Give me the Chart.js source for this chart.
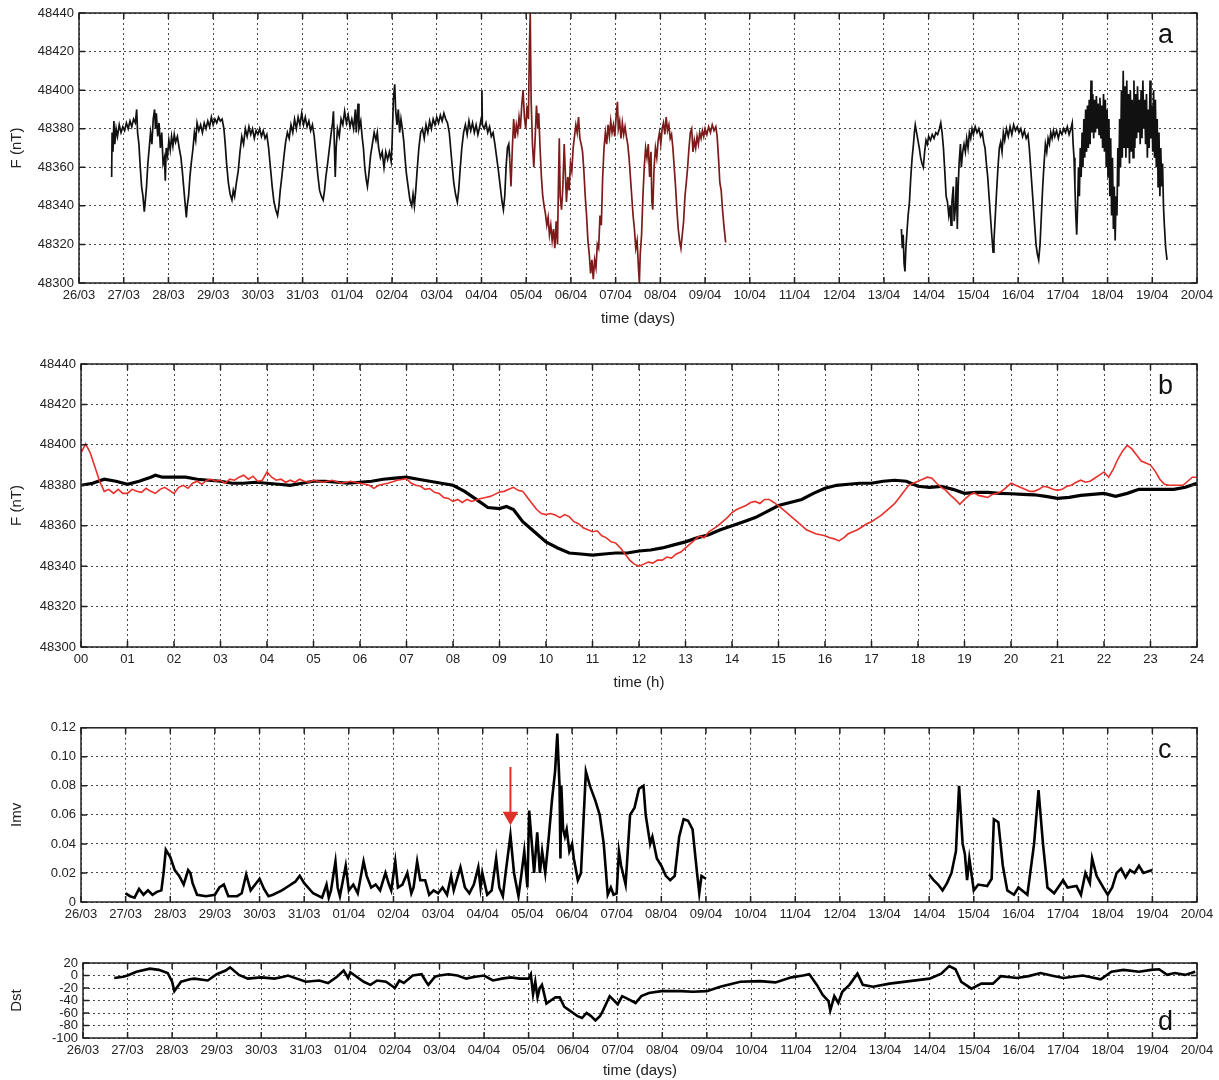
<!DOCTYPE html>
<html>
<head>
<meta charset="utf-8">
<script src="https://cdn.jsdelivr.net/npm/chart.js@4.4.1/dist/chart.umd.min.js"></script>
<style>
  body { margin: 0; background: #fff; }
  #wrap { position: relative; width: 1219px; height: 1080px; }
  canvas { position: absolute; left: 0; }
</style>
</head>
<body>
<div id="wrap">
  <canvas id="pa" width="1219" height="328" style="top:0px"></canvas>
  <canvas id="pb" width="1219" height="342" style="top:350px"></canvas>
  <canvas id="pc" width="1219" height="209" style="top:715px"></canvas>
  <canvas id="pd" width="1219" height="130" style="top:950px"></canvas>
</div>
<script>
// tick labels
var dayLabels = ['26/03','27/03','28/03','29/03','30/03','31/03','01/04','02/04','03/04','04/04','05/04','06/04','07/04',
  '08/04','09/04','10/04','11/04','12/04','13/04','14/04','15/04','16/04','17/04','18/04','19/04','20/04'];
var hourLabels = ['00','01','02','03','04','05','06','07','08','09','10','11','12','13','14','15','16','17','18','19','20','21','22','23','24'];

// panel a : total field F (nT), time in days from 26/03
var aT1 = [0.73,0.74,0.76,0.78,0.80,0.83,0.86,0.90,0.94,0.98,1.02,1.06,1.10,1.14,1.18,1.22,1.26,1.29,1.31,1.34,1.37,1.40,1.43,1.46,1.48,1.51,1.54,1.57,1.60,1.63,1.66,1.69,1.71,1.73,1.76,1.79,1.82,1.85,1.88,1.91,1.93,1.95,1.98,2.01,2.04,2.07,2.10,2.13,2.16,2.20,2.24,2.28,2.31,2.34,2.37,2.40,2.42,2.45,2.48,2.51,2.55,2.58,2.61,2.64,2.68,2.72,2.76,2.80,2.84,2.88,2.92,2.96,3.00,3.04,3.08,3.12,3.16,3.20,3.24,3.27,3.30,3.34,3.38,3.42,3.45,3.48,3.52,3.56,3.60,3.64,3.68,3.72,3.76,3.80,3.84,3.88,3.92,3.96,4.00,4.04,4.08,4.12,4.16,4.20,4.24,4.28,4.32,4.36,4.40,4.44,4.47,4.50,4.54,4.58,4.62,4.66,4.70,4.74,4.78,4.82,4.86,4.90,4.94,4.98,5.02,5.06,5.10,5.14,5.18,5.22,5.26,5.30,5.34,5.38,5.42,5.46,5.49,5.52,5.56,5.60,5.64,5.67,5.69,5.71,5.73,5.75,5.78,5.82,5.86,5.90,5.94,5.98,6.02,6.06,6.10,6.14,6.18,6.20,6.24,6.26,6.30,6.33,6.36,6.39,6.42,6.45,6.48,6.52,6.56,6.60,6.64,6.67,6.70,6.74,6.78,6.82,6.86,6.90,6.94,6.98,7.00,7.03,7.06,7.08,7.11,7.14,7.17,7.20,7.23,7.26,7.29,7.32,7.36,7.40,7.44,7.47,7.50,7.53,7.56,7.60,7.64,7.68,7.72,7.76,7.80,7.84,7.88,7.92,7.96,8.00,8.04,8.08,8.12,8.16,8.20,8.24,8.28,8.31,8.34,8.38,8.42,8.46,8.49,8.52,8.56,8.60,8.64,8.68,8.72,8.76,8.80,8.84,8.88,8.92,8.96,9.00,9.01,9.02,9.06,9.10,9.14,9.18,9.22,9.26,9.30,9.34,9.38,9.42,9.46,9.49,9.52,9.55,9.58,9.61,9.63];
var aF1 = [48355,48378,48368,48384,48372,48380,48376,48382,48378,48381,48379,48383,48380,48384,48381,48385,48383,48390,48378,48372,48360,48350,48345,48337,48342,48350,48362,48370,48378,48372,48385,48390,48380,48388,48376,48383,48370,48378,48362,48365,48353,48370,48366,48374,48369,48376,48371,48377,48373,48376,48370,48365,48358,48350,48342,48334,48340,48345,48355,48362,48370,48378,48374,48383,48379,48382,48378,48383,48380,48384,48381,48386,48382,48385,48383,48386,48384,48385,48380,48372,48362,48352,48346,48343,48348,48345,48352,48358,48368,48376,48372,48380,48376,48381,48377,48380,48375,48379,48377,48380,48376,48379,48375,48377,48370,48360,48350,48342,48338,48335,48340,48348,48356,48365,48373,48378,48375,48382,48378,48385,48380,48386,48382,48388,48382,48386,48381,48384,48379,48382,48376,48366,48356,48348,48345,48343,48348,48355,48362,48370,48378,48383,48389,48372,48355,48370,48380,48376,48385,48382,48389,48383,48387,48381,48385,48380,48390,48378,48393,48380,48384,48376,48370,48360,48354,48350,48356,48366,48372,48378,48374,48378,48370,48365,48368,48360,48368,48364,48368,48363,48372,48395,48403,48390,48382,48390,48378,48385,48380,48374,48365,48357,48350,48343,48340,48346,48340,48348,48358,48370,48378,48380,48375,48382,48378,48384,48380,48385,48382,48386,48383,48387,48384,48388,48385,48383,48378,48370,48362,48352,48346,48342,48348,48358,48370,48378,48382,48377,48384,48379,48383,48378,48382,48377,48381,48386,48400,48382,48380,48383,48378,48381,48376,48378,48372,48365,48358,48350,48342,48338,48345,48360,48370,48372,48365];

var aT2 = [9.63,9.66,9.69,9.72,9.75,9.78,9.81,9.84,9.87,9.90,9.93,9.96,9.99,10.02,10.05,10.07,10.09,10.11,10.14,10.17,10.20,10.23,10.26,10.28,10.31,10.34,10.37,10.40,10.43,10.46,10.49,10.52,10.55,10.58,10.61,10.64,10.67,10.70,10.72,10.74,10.76,10.79,10.82,10.85,10.87,10.90,10.93,10.96,10.99,11.02,11.05,11.08,11.11,11.14,11.17,11.20,11.23,11.26,11.29,11.32,11.35,11.38,11.41,11.44,11.47,11.50,11.53,11.56,11.59,11.62,11.65,11.68,11.71,11.74,11.77,11.80,11.83,11.86,11.89,11.92,11.95,11.98,12.01,12.04,12.06,12.09,12.12,12.15,12.18,12.21,12.24,12.27,12.30,12.33,12.36,12.39,12.42,12.45,12.48,12.51,12.53,12.55,12.58,12.61,12.64,12.67,12.70,12.73,12.76,12.79,12.81,12.83,12.86,12.89,12.92,12.95,12.98,13.01,13.04,13.07,13.10,13.13,13.16,13.19,13.22,13.25,13.28,13.31,13.34,13.37,13.40,13.43,13.46,13.49,13.52,13.55,13.58,13.61,13.64,13.67,13.70,13.73,13.76,13.79,13.82,13.85,13.88,13.91,13.94,13.97,14.00,14.04,14.08,14.12,14.16,14.20,14.24,14.27,14.30,14.33,14.36,14.39,14.42,14.46];
var aF2 = [48365,48350,48370,48385,48375,48382,48378,48386,48380,48392,48400,48386,48380,48392,48385,48420,48440,48395,48372,48360,48375,48392,48380,48388,48370,48355,48345,48340,48336,48330,48334,48325,48330,48322,48328,48318,48332,48320,48350,48375,48345,48338,48350,48372,48360,48342,48355,48348,48362,48358,48370,48376,48382,48378,48386,48375,48372,48368,48358,48345,48335,48322,48315,48305,48312,48302,48312,48308,48320,48318,48335,48330,48355,48370,48378,48372,48382,48376,48384,48378,48382,48376,48386,48394,48380,48384,48375,48383,48377,48381,48376,48372,48365,48355,48345,48335,48328,48318,48322,48308,48300,48315,48325,48345,48360,48370,48365,48372,48355,48368,48342,48338,48360,48370,48365,48374,48378,48372,48380,48383,48377,48386,48379,48382,48375,48377,48370,48360,48350,48338,48328,48322,48318,48325,48332,48345,48352,48360,48370,48378,48380,48368,48374,48370,48376,48372,48378,48375,48379,48376,48380,48377,48381,48378,48382,48379,48381,48376,48365,48352,48348,48338,48330,48321];

var aT3 = [18.39,18.41,18.43,18.45,18.47,18.49,18.51,18.54,18.57,18.60,18.63,18.66,18.68,18.70,18.73,18.76,18.79,18.82,18.85,18.88,18.91,18.94,18.97,19.00,19.04,19.08,19.12,19.16,19.20,19.24,19.27,19.30,19.33,19.36,19.39,19.42,19.45,19.48,19.50,19.52,19.55,19.57,19.60,19.62,19.64,19.66,19.68,19.71,19.73,19.76,19.79,19.82,19.85,19.88,19.91,19.94,19.97,20.00,20.04,20.08,20.12,20.16,20.20,20.23,20.26,20.29,20.32,20.35,20.38,20.41,20.44,20.46,20.49,20.52,20.55,20.58,20.61,20.64,20.67,20.70,20.74,20.78,20.82,20.86,20.90,20.94,20.98,21.02,21.06,21.10,21.14,21.18,21.22,21.25,21.28,21.31,21.34,21.37,21.40,21.43,21.46,21.49,21.52,21.55,21.58,21.61,21.64,21.67,21.70,21.73,21.76,21.79,21.82,21.86,21.90,21.94,21.98,22.02,22.06,22.10,22.14,22.18,22.21,22.23,22.25,22.27,22.29,22.31,22.33,22.35,22.37,22.39,22.41,22.43,22.45,22.47,22.49,22.51,22.53,22.55,22.57,22.59,22.61,22.63,22.65,22.67,22.69,22.71,22.73,22.75,22.77,22.79,22.81,22.83,22.85,22.87,22.89,22.91,22.93,22.95,22.97,22.99,23.01,23.03,23.05,23.07,23.09,23.11,23.13,23.15,23.17,23.19,23.21,23.23,23.25,23.27,23.29,23.31,23.33,23.35,23.37,23.39,23.41,23.43,23.45,23.47,23.49,23.51,23.53,23.55,23.57,23.59,23.61,23.63,23.65,23.67,23.69,23.71,23.73,23.75,23.77,23.79,23.81,23.83,23.85,23.87,23.89,23.91,23.93,23.95,23.97,23.99,24.01,24.03,24.05,24.07,24.09,24.11,24.13,24.15,24.17,24.19,24.21,24.23,24.25,24.27,24.30,24.33];
var aF3 = [48328,48318,48325,48310,48306,48318,48325,48335,48342,48355,48365,48372,48378,48382,48378,48374,48370,48365,48362,48360,48368,48374,48372,48376,48374,48377,48375,48378,48377,48380,48383,48378,48370,48358,48345,48342,48335,48340,48330,48342,48350,48332,48340,48355,48328,48350,48362,48372,48360,48368,48372,48368,48375,48370,48378,48375,48380,48377,48381,48378,48380,48376,48378,48373,48370,48362,48355,48345,48335,48325,48316,48322,48335,48348,48360,48370,48373,48368,48378,48374,48380,48376,48381,48377,48382,48379,48381,48378,48380,48376,48379,48375,48377,48370,48360,48350,48340,48330,48320,48315,48312,48320,48335,48350,48362,48372,48368,48375,48372,48378,48375,48379,48376,48379,48375,48379,48377,48380,48378,48381,48377,48380,48383,48372,48365,48350,48335,48325,48340,48360,48345,48370,48355,48378,48360,48385,48365,48390,48368,48392,48370,48395,48372,48405,48378,48398,48375,48395,48378,48397,48380,48393,48377,48396,48375,48392,48370,48398,48368,48395,48360,48390,48355,48385,48345,48375,48335,48365,48328,48350,48322,48345,48335,48370,48350,48385,48360,48400,48365,48410,48370,48402,48365,48405,48370,48398,48362,48400,48368,48395,48365,48405,48370,48398,48375,48402,48378,48395,48372,48400,48375,48405,48380,48395,48372,48398,48365,48390,48370,48405,48375,48392,48368,48400,48365,48395,48360,48385,48350,48378,48345,48370,48350,48362,48340,48330,48318,48312];

// panel b : F over one day (h), quiet day (black) and 5 April (red)
var bHourBlack = [0,0.25,0.5,0.75,1,1.25,1.5,1.6,1.75,2,2.25,2.5,2.75,3,3.25,3.5,3.75,4,4.25,4.5,4.75,5,5.25,5.5,5.75,6,6.25,6.5,6.75,7,7.25,7.5,7.75,8,8.25,8.5,8.75,9,9.15,9.3,9.5,9.75,10,10.25,10.5,10.75,11,11.25,11.5,11.75,12,12.25,12.5,12.75,13,13.25,13.5,13.75,14,14.25,14.5,14.75,15,15.25,15.5,15.75,16,16.25,16.5,16.75,17,17.25,17.5,17.75,18,18.25,18.5,18.75,19,19.25,19.5,19.75,20,20.25,20.5,20.75,21,21.25,21.5,21.75,22,22.25,22.5,22.75,23,23.25,23.5,23.75,24];
var bBlack = [48380,48381,48383,48382,48380.5,48382,48384,48385,48384,48384,48384,48383,48382.5,48382,48381,48381,48381.5,48381,48380.5,48380,48381,48382,48382,48381.5,48381,48381.5,48382,48383,48383.5,48384,48383,48382,48381,48380,48377,48373,48369,48368.5,48369.5,48368,48362,48357,48352,48349,48346.5,48346,48345.5,48346,48346.5,48346.5,48347.5,48348,48349,48350.5,48352,48354,48355.5,48358,48360,48362,48364,48367,48370,48371.5,48373,48376,48378.5,48380,48380.5,48381,48381,48382,48382.5,48382,48379.5,48379,48379.5,48378,48376,48376.5,48376.5,48376,48375.8,48375.5,48375.3,48374.5,48373.5,48374,48375,48375.5,48376,48374.5,48376,48378,48378,48378,48378,48379,48381];
var bHourRed = [0,0.1,0.2,0.3,0.4,0.5,0.6,0.7,0.8,0.9,1,1.1,1.2,1.3,1.4,1.5,1.6,1.7,1.8,1.9,2,2.1,2.2,2.3,2.4,2.5,2.6,2.7,2.8,2.9,3,3.1,3.2,3.3,3.4,3.5,3.6,3.7,3.8,3.9,4,4.1,4.2,4.3,4.4,4.5,4.6,4.7,4.8,4.9,5,5.2,5.4,5.6,5.8,6,6.2,6.3,6.4,6.6,6.8,7,7.1,7.2,7.3,7.4,7.5,7.6,7.7,7.8,7.9,8,8.1,8.2,8.3,8.4,8.5,8.6,8.7,8.8,8.9,9,9.1,9.2,9.3,9.4,9.5,9.6,9.7,9.8,9.9,10,10.1,10.2,10.3,10.4,10.5,10.6,10.7,10.8,10.9,11,11.1,11.2,11.3,11.4,11.5,11.6,11.7,11.8,11.9,12,12.1,12.2,12.3,12.4,12.5,12.6,12.7,12.8,12.9,13,13.1,13.2,13.3,13.4,13.5,13.6,13.7,13.8,13.9,14,14.1,14.2,14.3,14.4,14.5,14.6,14.7,14.8,14.9,15,15.1,15.2,15.3,15.4,15.5,15.6,15.7,15.8,15.9,16,16.1,16.2,16.3,16.4,16.5,16.6,16.7,16.8,16.9,17,17.1,17.2,17.3,17.4,17.5,17.6,17.7,17.8,17.9,18,18.1,18.2,18.3,18.4,18.5,18.6,18.7,18.8,18.9,19,19.1,19.2,19.3,19.4,19.5,19.6,19.7,19.8,19.9,20,20.1,20.2,20.3,20.4,20.5,20.6,20.7,20.8,20.9,21,21.1,21.2,21.3,21.4,21.5,21.6,21.7,21.8,21.9,22,22.1,22.2,22.3,22.4,22.5,22.6,22.7,22.8,22.9,23,23.1,23.2,23.3,23.4,23.5,23.6,23.7,23.8,23.9,24];
var bRed = [48396,48400.5,48396,48389,48382,48377,48378,48376,48378,48376,48376,48378,48377,48376.5,48378.5,48377,48376,48378,48379,48377.5,48376,48379,48380,48378.5,48381,48382,48380.5,48382.5,48383,48382,48382.5,48381,48383,48382.5,48384,48385,48383,48384.5,48382,48382.5,48386.6,48384,48382.5,48383,48381.5,48382.5,48381.5,48383,48382,48381.5,48382.5,48381.5,48382.5,48381,48382,48381,48380,48378.5,48380,48381,48382.5,48383.3,48381,48380,48379.5,48378,48378.4,48376.5,48376,48374,48373.5,48372,48373,48371.5,48373,48372,48372.7,48373.5,48374,48374.5,48375.5,48376.7,48377,48378,48379,48377.5,48377,48374,48371,48368,48366,48365.5,48366,48365.3,48364,48365.5,48364.5,48362,48361,48359,48358,48357,48357.5,48355,48354,48352,48351.4,48349,48346,48343,48341,48340,48341,48342,48341.5,48343,48343,48344.5,48344,48346,48347,48349,48351,48353,48355,48354,48357,48358.4,48360,48362,48364,48366.5,48368,48369,48370,48371.5,48372,48371,48373,48373,48371.5,48369.8,48368,48366,48364,48362,48360,48358,48357,48356,48355.5,48355,48354,48353.5,48352.5,48354,48356,48357,48358,48359.5,48361,48362,48363.5,48365,48367,48369,48371,48374,48377,48380,48381,48382,48383,48384,48383.5,48381,48379,48377.5,48375,48373,48370.6,48373,48375,48376.4,48375,48374.5,48374,48375.5,48376,48377,48379,48381,48380,48379,48378,48377,48377,48378,48379.5,48379,48378,48377.5,48378,48379.5,48380,48381.5,48382.5,48381.5,48382,48383.5,48385,48386.6,48384,48388,48393,48397,48399.8,48398,48395,48392,48391,48390,48387,48383,48380.5,48380,48380,48380,48380,48382,48384,48384];

// panel c : Imv index
var cT1 = [1.0,1.1,1.2,1.3,1.4,1.5,1.6,1.7,1.8,1.85,
  1.9,2.0,2.1,2.2,2.3,2.4,2.45,2.5,2.6,2.8,
  3.0,3.1,3.2,3.3,3.5,3.6,3.7,3.8,3.95,4.0,
  4.1,4.2,4.3,4.5,4.6,4.8,4.9,5.0,5.2,5.4,
  5.5,5.55,5.6,5.7,5.75,5.8,5.93,6.0,6.1,6.2,
  6.33,6.4,6.5,6.6,6.7,6.82,6.9,6.95,7.04,7.1,
  7.2,7.31,7.4,7.45,7.53,7.6,7.71,7.8,7.9,8.0,
  8.1,8.2,8.29,8.35,8.5,8.6,8.7,8.8,8.9,8.95,
  8.99,9.1,9.2,9.3,9.37,9.45,9.52,9.62,9.7,9.8,
  9.87,9.93,10.0,10.04,10.1,10.15,10.22,10.28,10.33,10.4,
  10.48,10.55,10.62,10.67,10.72,10.74,10.76,10.8,10.84,10.88,
  10.94,11.0,11.04,11.13,11.2,11.31,11.4,11.46,11.52,11.62,
  11.71,11.8,11.87,11.93,12.0,12.05,12.1,12.2,12.3,12.4,
  12.5,12.6,12.65,12.75,12.8,12.9,13.0,13.1,13.2,13.3,
  13.4,13.5,13.6,13.7,13.8,13.85,13.9,14.0];
var cImv1 = [0.006,0.004,0.003,0.009,0.005,0.008,0.005,0.007,0.008,0.02,
  0.036,0.031,0.022,0.018,0.012,0.022,0.02,0.013,0.005,0.004,
  0.005,0.01,0.012,0.004,0.004,0.006,0.019,0.008,0.014,0.016,
  0.009,0.004,0.005,0.008,0.01,0.014,0.018,0.013,0.006,0.003,
  0.012,0.003,0.008,0.028,0.01,0.004,0.025,0.008,0.012,0.006,
  0.028,0.018,0.01,0.012,0.008,0.02,0.012,0.008,0.028,0.01,
  0.012,0.02,0.006,0.01,0.028,0.015,0.015,0.005,0.008,0.006,
  0.01,0.005,0.018,0.008,0.024,0.01,0.006,0.012,0.024,0.01,
  0.02,0.005,0.008,0.03,0.01,0.004,0.022,0.046,0.02,0.004,
  0.02,0.035,0.01,0.063,0.04,0.02,0.048,0.02,0.035,0.02,
  0.045,0.07,0.09,0.116,0.08,0.03,0.08,0.05,0.045,0.05,
  0.035,0.04,0.03,0.015,0.02,0.09,0.08,0.075,0.07,0.06,
  0.04,0.005,0.01,0.005,0.006,0.035,0.025,0.012,0.06,0.065,
  0.078,0.08,0.06,0.04,0.045,0.03,0.025,0.018,0.015,0.018,
  0.045,0.057,0.056,0.05,0.02,0.006,0.018,0.016];
var cT2 = [19.0,19.1,19.2,19.3,19.4,19.5,19.6,19.67,19.75,19.8,19.85,19.9,20.0,20.1,20.3,20.4,20.45,20.55,20.65,20.75,20.9,21.0,21.2,21.35,21.45,21.55,21.65,21.8,22.0,22.1,22.3,22.4,22.5,22.6,22.65,22.75,22.9,23.0,23.1,23.2,23.3,23.4,23.5,23.6,23.7,23.8,23.9,24.0];
var cImv2 = [0.019,0.015,0.012,0.008,0.013,0.02,0.035,0.08,0.04,0.033,0.015,0.03,0.008,0.012,0.011,0.016,0.057,0.055,0.025,0.008,0.005,0.01,0.005,0.04,0.077,0.04,0.01,0.006,0.015,0.01,0.011,0.005,0.02,0.013,0.03,0.018,0.01,0.005,0.01,0.02,0.023,0.017,0.022,0.02,0.025,0.02,0.021,0.022];
var arrowT = [9.62, 9.62];
var arrowImv = [0.093, 0.059];

// panel d : Dst index
var dT = [0.7,0.9,1.0,1.2,1.5,1.7,1.9,2.0,2.05,2.2,2.4,2.5,2.8,3.0,3.2,3.3,3.5,3.7,4.0,4.3,4.5,4.6,4.8,5.0,5.3,5.5,5.7,5.85,5.95,6.0,6.1,6.3,6.45,6.6,6.8,7.0,7.1,7.2,7.4,7.6,7.7,7.75,7.9,8.0,8.2,8.4,8.6,8.8,9.0,9.2,9.4,9.6,9.8,10.0,10.05,10.1,10.15,10.2,10.25,10.3,10.4,10.5,10.6,10.7,10.8,10.9,11.0,11.1,11.2,11.3,11.4,11.5,11.6,11.65,11.82,12.0,12.1,12.27,12.4,12.53,12.7,12.98,13.42,13.68,14.0,14.3,14.75,15.19,15.54,15.9,16.16,16.3,16.47,16.6,16.73,16.77,16.86,16.95,17.04,17.2,17.38,17.5,17.73,18.1,18.55,19.0,19.26,19.44,19.58,19.71,19.94,20.16,20.42,20.6,20.96,21.22,21.49,21.73,22.0,22.44,22.84,23.08,23.35,23.7,23.97,24.15,24.33,24.5,24.73,24.96];
var dDst = [-4,-2,0,6,11,9,4,-10,-25,-10,-6,-5,-8,2,8,13,1,-5,-3,-5,-2,0,-5,-10,-8,-12,-2,8,-4,5,0,-10,-15,-8,-10,-20,-8,-12,0,2,-10,-15,-2,0,2,0,-5,-2,0,-8,-5,-3,-5,-5,2,-30,-10,-35,-20,-15,-45,-40,-35,-35,-50,-55,-60,-65,-68,-60,-65,-72,-65,-59,-33,-46,-33,-39,-44,-33,-28,-25,-25,-26,-25,-18,-10,-9,-11,-3,0,2,-15,-31,-41,-56,-33,-44,-26,-15,3,-15,-18,-13,-9,-5,3,15,10,-10,-21,-13,-13,-1,-4,-1,4,0,-4,0,-6,6,9,6,9,10,1,4,1,6];

function pts(t, v) { return t.map(function (x, i) { return { x: x, y: v[i] }; }); }

var tickFont = { family: "'Liberation Sans Narrow', 'Liberation Sans', Arial, sans-serif", size: 13 };
var titleFont = { family: "'Liberation Sans', Arial, sans-serif", size: 15 };

// box, inward ticks and panel letter
var framePlugin = {
  id: 'frame',
  afterDraw: function (chart) {
    var ctx = chart.ctx, a = chart.chartArea, o = chart.options.plugins.frame;
    var xs = chart.scales.x, ys = chart.scales.y;
    ctx.save();
    ctx.strokeStyle = '#222';
    ctx.lineWidth = 1.5;
    ctx.beginPath();
    xs.ticks.forEach(function (t, i) {
      var px = xs.getPixelForTick(i);
      ctx.moveTo(px, a.bottom); ctx.lineTo(px, a.bottom - 6);
      ctx.moveTo(px, a.top); ctx.lineTo(px, a.top + 6);
    });
    ys.ticks.forEach(function (t, i) {
      var py = ys.getPixelForTick(i);
      ctx.moveTo(a.left, py); ctx.lineTo(a.left + 6, py);
      ctx.moveTo(a.right, py); ctx.lineTo(a.right - 6, py);
    });
    ctx.stroke();
    ctx.strokeRect(a.left, a.top, a.right - a.left, a.bottom - a.top);
    ctx.fillStyle = '#111';
    ctx.font = '27px "Liberation Sans", Arial, sans-serif';
    ctx.textAlign = 'left';
    ctx.textBaseline = 'alphabetic';
    var ly = o.bottom ? a.bottom - 8 : a.top + 30;
    ctx.fillText(o.letter, a.right - 39, ly);
    ctx.restore();
  }
};

function makePanel(id, cfg) {
  return new Chart(document.getElementById(id), {
    type: 'line',
    data: { datasets: cfg.datasets },
    plugins: [framePlugin],
    options: {
      responsive: false,
      animation: false,
      layout: { padding: { top: cfg.padTop, right: 22, left: 0, bottom: 0 } },
      plugins: {
        legend: { display: false },
        tooltip: { enabled: false },
        frame: { letter: cfg.letter, bottom: cfg.letterBottom }
      },
      elements: { point: { radius: 0 }, line: { tension: 0 } },
      scales: {
        x: {
          type: 'linear', min: cfg.xMin, max: cfg.xMax,
          afterFit: function (s) { s.height = cfg.xHeight; },
          afterBuildTicks: function (s) {
            s.ticks = cfg.xLabels.map(function (l, i) { return { value: i }; });
          },
          ticks: {
            autoSkip: false, maxRotation: 0, padding: 5, color: '#222', font: tickFont,
            callback: function (v) { return cfg.xLabels[Math.round(v)]; }
          },
          grid: { color: 'rgba(40,40,40,0.85)', lineWidth: 1, drawTicks: false },
          border: { display: false, dash: [2, 3] },
          title: { display: !!cfg.xTitle, text: cfg.xTitle, color: '#222', font: titleFont, padding: { top: 0, bottom: 0 } }
        },
        y: {
          type: 'linear', min: cfg.yMin, max: cfg.yMax,
          afterFit: function (s) { s.width = cfg.yWidth; },
          afterBuildTicks: function (s) {
            s.ticks = cfg.yTicks.map(function (v) { return { value: v }; });
          },
          ticks: {
            autoSkip: false, padding: 5, color: '#222', font: tickFont,
            callback: cfg.yFormat || function (v) { return String(v); }
          },
          grid: { color: 'rgba(40,40,40,0.85)', lineWidth: 1, drawTicks: false },
          border: { display: false, dash: [2, 3] },
          title: { display: true, text: cfg.yTitle, color: '#222', font: titleFont, padding: { top: 8, bottom: 0 } }
        }
      }
    }
  });
}

var fTicks = [48300, 48320, 48340, 48360, 48380, 48400, 48420, 48440];

makePanel('pa', {
  padTop: 13, xHeight: 45, yWidth: 79, xMin: 0, xMax: 25, yMin: 48300, yMax: 48440,
  xLabels: dayLabels, yTicks: fTicks, xTitle: 'time (days)', yTitle: 'F (nT)', letter: 'a',
  datasets: [
    { data: pts(aT1, aF1), borderColor: '#111', borderWidth: 1.7 },
    { data: pts(aT2, aF2), borderColor: '#7d1b1b', borderWidth: 1.7 },
    { data: pts(aT3, aF3), borderColor: '#111', borderWidth: 1.7 }
  ]
});

makePanel('pb', {
  padTop: 14, xHeight: 45, yWidth: 81, xMin: 0, xMax: 24, yMin: 48300, yMax: 48440,
  xLabels: hourLabels, yTicks: fTicks, xTitle: 'time (h)', yTitle: 'F (nT)', letter: 'b',
  datasets: [
    { data: pts(bHourRed, bRed), borderColor: '#e8302b', borderWidth: 1.6 },
    { data: pts(bHourBlack, bBlack), borderColor: '#000', borderWidth: 3.2 }
  ]
});

makePanel('pc', {
  padTop: 12, xHeight: 22, yWidth: 81, xMin: 0, xMax: 25, yMin: 0, yMax: 0.12,
  xLabels: dayLabels, yTicks: [0, 0.02, 0.04, 0.06, 0.08, 0.10, 0.12], yTitle: 'Imv', letter: 'c',
  yFormat: function (v) { return v === 0 ? '0' : v.toFixed(2); },
  datasets: [
    { data: pts(cT1, cImv1), borderColor: '#000', borderWidth: 2.6 },
    { data: pts(cT2, cImv2), borderColor: '#000', borderWidth: 2.6 },
    { data: pts(arrowT, arrowImv), borderColor: '#e0302a', borderWidth: 2,
      pointRadius: [0, 7], pointStyle: 'triangle', rotation: 180,
      pointBackgroundColor: '#e0302a', pointBorderColor: '#e0302a' }
  ]
});

makePanel('pd', {
  padTop: 13, xHeight: 42, yWidth: 83, xMin: 0, xMax: 25, yMin: -100, yMax: 20,
  xLabels: dayLabels, yTicks: [-100, -80, -60, -40, -20, 0, 20], xTitle: 'time (days)', yTitle: 'Dst',
  letter: 'd', letterBottom: true,
  datasets: [
    { data: pts(dT, dDst), borderColor: '#000', borderWidth: 2.6 }
  ]
});
</script>
</body>
</html>
